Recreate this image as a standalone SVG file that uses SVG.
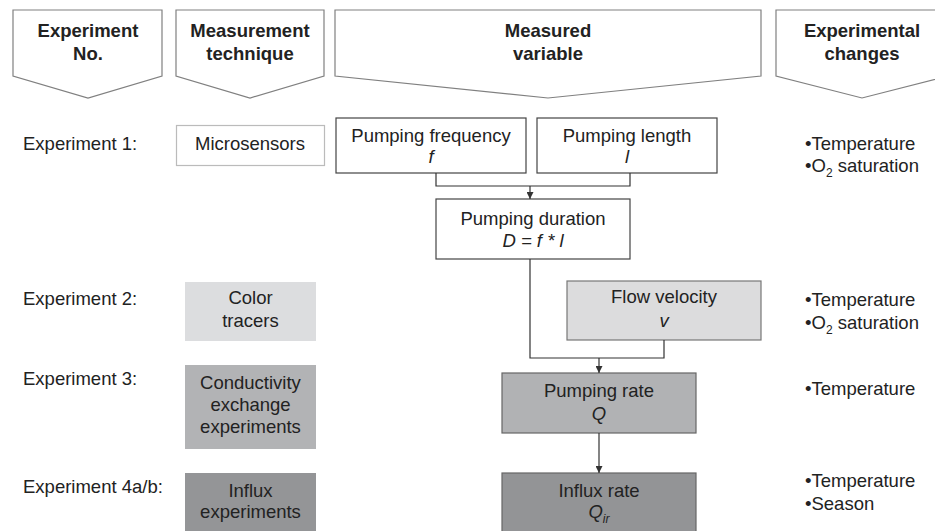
<svg xmlns="http://www.w3.org/2000/svg" width="935" height="531" viewBox="0 0 935 531">
<defs>
<style>
text{font-family:"Liberation Sans",Arial,sans-serif;font-size:18.5px;fill:#222}
.h{font-weight:bold;text-anchor:middle}
.c{text-anchor:middle}
.i{font-style:italic}
.hdr{fill:#fff;stroke:#808080;stroke-width:1.2}
.bx{fill:#fff;stroke:#444;stroke-width:1.2}
.con{fill:none;stroke:#333;stroke-width:1.2}
</style>
<marker id="ah" viewBox="0 0 10 10" refX="10" refY="5" markerWidth="7" markerHeight="7" markerUnits="userSpaceOnUse" orient="auto">
<path d="M0,0 L10,5 L0,10 z" fill="#333"/>
</marker>
</defs>
<rect width="935" height="531" fill="#fff"/>

<g id="header-exp">
<path class="hdr" d="M13,10 H162 V76 L88,98 L13,76 Z"/>
<text class="h" x="88" y="37">Experiment</text>
<text class="h" x="88" y="60">No.</text>
</g>
<g id="header-tech">
<path class="hdr" d="M176,10 H324 V76 L250,98 L176,76 Z"/>
<text class="h" x="250" y="37">Measurement</text>
<text class="h" x="250" y="60">technique</text>
</g>
<g id="header-var">
<path class="hdr" d="M335,10 H761 V76 L548,98 L335,76 Z"/>
<text class="h" x="548" y="37">Measured</text>
<text class="h" x="548" y="60">variable</text>
</g>
<g id="header-changes">
<path class="hdr" d="M776,10 H948 V76 L862,98 L776,76 Z"/>
<text class="h" x="862" y="37">Experimental</text>
<text class="h" x="862" y="60">changes</text>
</g>

<g id="label-exp1"><text x="23" y="150">Experiment 1:</text></g>
<g id="label-exp2"><text x="23" y="305">Experiment 2:</text></g>
<g id="label-exp3"><text x="23" y="385">Experiment 3:</text></g>
<g id="label-exp4"><text x="23" y="493">Experiment 4a/b:</text></g>

<g id="tech-microsensors">
<rect x="176.5" y="125.5" width="148" height="40" fill="#fff" stroke="#bbb" stroke-width="1.2"/>
<text class="c" x="250" y="150">Microsensors</text>
</g>
<g id="tech-color">
<rect x="185" y="282" width="131" height="59" fill="#dcdddf"/>
<text class="c" x="250.5" y="304">Color</text>
<text class="c" x="250.5" y="327">tracers</text>
</g>
<g id="tech-conductivity">
<rect x="185" y="365" width="131" height="84" fill="#b2b3b5"/>
<text class="c" x="250.5" y="389">Conductivity</text>
<text class="c" x="250.5" y="411">exchange</text>
<text class="c" x="250.5" y="433">experiments</text>
</g>
<g id="tech-influx">
<rect x="185" y="473" width="131" height="60" fill="#949597"/>
<text class="c" x="250.5" y="497">Influx</text>
<text class="c" x="250.5" y="518">experiments</text>
</g>

<g id="var-frequency">
<rect class="bx" x="336" y="118" width="190" height="55"/>
<text class="c" x="431" y="142">Pumping frequency</text>
<text class="c i" x="431" y="163">f</text>
</g>
<g id="var-length">
<rect class="bx" x="537" y="118" width="180" height="55"/>
<text class="c" x="627" y="142">Pumping length</text>
<text class="c i" x="627" y="163">l</text>
</g>
<g id="var-duration">
<rect class="bx" x="436" y="199" width="194" height="60"/>
<text class="c" x="533" y="225">Pumping duration</text>
<text class="c i" x="533" y="247">D = f * l</text>
</g>
<g id="var-flow">
<rect x="567" y="281" width="194" height="59" fill="#dcdcdd" stroke="#777" stroke-width="1.2"/>
<text class="c" x="664" y="303">Flow velocity</text>
<text class="c i" x="664" y="327">v</text>
</g>
<g id="var-pumprate">
<rect x="502" y="373" width="194" height="60" fill="#b1b2b4" stroke="#666" stroke-width="1.2"/>
<text class="c" x="599" y="397">Pumping rate</text>
<text class="c i" x="599" y="420">Q</text>
</g>
<g id="var-influxrate">
<rect x="502" y="473" width="194" height="62" fill="#939496" stroke="#666" stroke-width="1.2"/>
<text class="c" x="599" y="497">Influx rate</text>
<text class="c i" x="599" y="518">Q<tspan font-size="12" dy="5">ir</tspan></text>
</g>

<g id="changes-1">
<text x="805" y="150">•Temperature</text>
<text x="805" y="172">•O<tspan font-size="12" dy="5">2</tspan><tspan dy="-5"> saturation</tspan></text>
</g>
<g id="changes-2">
<text x="805" y="306">•Temperature</text>
<text x="805" y="329">•O<tspan font-size="12" dy="5">2</tspan><tspan dy="-5"> saturation</tspan></text>
</g>
<g id="changes-3">
<text x="805" y="395">•Temperature</text>
</g>
<g id="changes-4">
<text x="805" y="487">•Temperature</text>
<text x="805" y="510">•Season</text>
</g>

<g id="connectors">
<polyline class="con" points="436,173 436,186 630,186 630,173"/>
<line class="con" x1="530" y1="186" x2="530" y2="199" marker-end="url(#ah)"/>
<polyline class="con" points="530,259 530,358 664,358 664,340"/>
<line class="con" x1="599" y1="358" x2="599" y2="373" marker-end="url(#ah)"/>
<line class="con" x1="599" y1="433" x2="599" y2="473" marker-end="url(#ah)"/>
</g>
</svg>
